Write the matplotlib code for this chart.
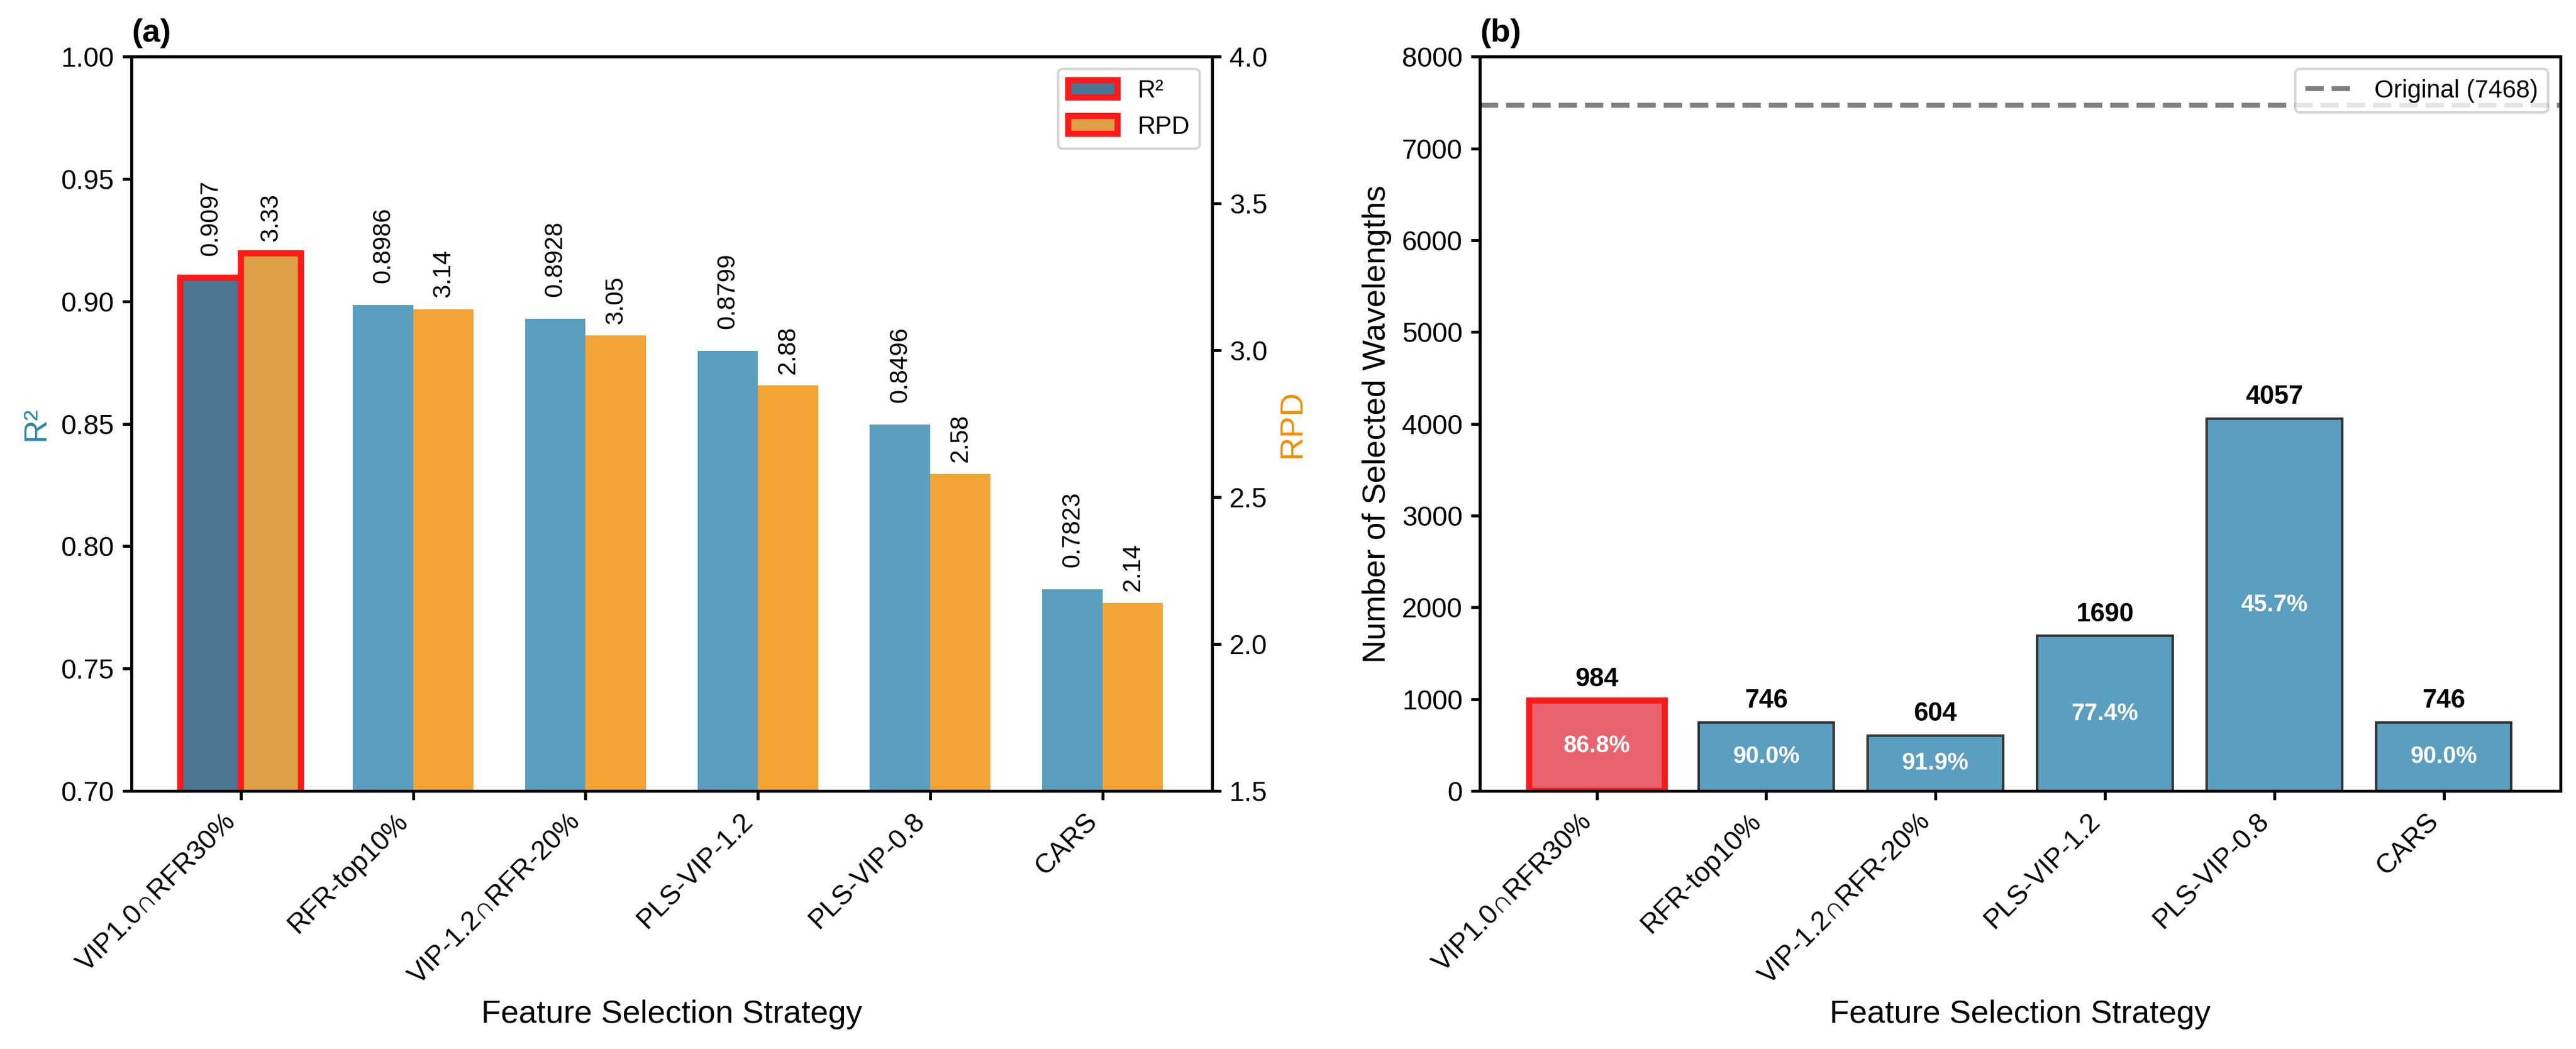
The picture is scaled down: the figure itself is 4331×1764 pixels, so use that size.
import numpy as np
import matplotlib
matplotlib.use('Agg')
from matplotlib import pyplot as plt

plt.rcParams['font.family'] = ['Liberation Sans', 'DejaVu Sans']
plt.rcParams['axes.linewidth'] = 1.2
plt.rcParams['xtick.major.width'] = 1.2
plt.rcParams['ytick.major.width'] = 1.2

strategies = ['VIP1.0\u2229RFR30%', 'RFR-top10%', 'VIP-1.2\u2229RFR-20%',
              'PLS-VIP-1.2', 'PLS-VIP-0.8', 'CARS']
r2 = [0.9097, 0.8986, 0.8928, 0.8799, 0.8496, 0.7823]
rpd = [3.33, 3.14, 3.05, 2.88, 2.58, 2.14]
n_selected = [984, 746, 604, 1690, 4057, 746]
n_original = 7468

BLUE = '#5A9EC0'
ORANGE = '#F2A535'
BEST_BLUE = '#4A7593'
BEST_ORANGE = '#DDA044'
BEST_RED = '#E9636F'
EDGE_RED = '#FF1A1A'
BAR_WIDTH = 0.35


def main():
    fig, (ax1, ax3) = plt.subplots(1, 2, figsize=(4331 / 300, 1764 / 300), dpi=300)
    plt.subplots_adjust(left=0.051, right=0.994, bottom=0.246, top=0.946, wspace=0.248)

    # (a) R2 and RPD
    x = np.arange(len(strategies))
    ax2 = ax1.twinx()
    b1 = ax1.bar(x - BAR_WIDTH / 2, r2, BAR_WIDTH, color=BLUE, label='R\u00b2')
    b2 = ax2.bar(x + BAR_WIDTH / 2, rpd, BAR_WIDTH, color=ORANGE, label='RPD')
    b1[0].set_facecolor(BEST_BLUE)
    b2[0].set_facecolor(BEST_ORANGE)
    for b in (b1[0], b2[0]):
        b.set_edgecolor(EDGE_RED)
        b.set_linewidth(2.5)

    for xi, v in zip(x, r2):
        ax1.text(xi - BAR_WIDTH / 2, v + 0.009, f'{v:.4f}', rotation=90,
                 ha='center', va='bottom', fontsize=10)
    for xi, v in zip(x, rpd):
        ax2.text(xi + BAR_WIDTH / 2, v + 0.04, f'{v:.2f}', rotation=90,
                 ha='center', va='bottom', fontsize=10)

    ax1.set_ylim(0.70, 1.00)
    ax2.set_ylim(1.5, 4.0)
    ax1.set_ylabel('R\u00b2', color='#2E86AB', fontsize=13)
    ax2.set_ylabel('RPD', color='#F18F01', fontsize=13)
    ax1.set_xlabel('Feature Selection Strategy', fontsize=13)
    ax1.set_xticks(x)
    ax1.set_xticklabels(strategies, rotation=45, ha='right')
    ax1.tick_params(labelsize=11)
    ax2.tick_params(labelsize=11)
    ax1.set_title('(a)', loc='left', fontweight='bold', fontsize=13)
    ax2.legend([b1, b2], ['R\u00b2', 'RPD'], loc='upper right', fontsize=10)

    # (b) number of wavelengths
    bars = ax3.bar(x, n_selected, 0.8, color=BLUE, edgecolor='#333333', linewidth=1)
    bars[0].set_facecolor(BEST_RED)
    bars[0].set_edgecolor(EDGE_RED)
    bars[0].set_linewidth(2.5)
    ax3.axhline(n_original, color='gray', linestyle='--', linewidth=2,
                label=f'Original ({n_original})')
    for xi, v in zip(x, n_selected):
        ax3.text(xi, v + 100, f'{v}', ha='center', va='bottom',
                 fontsize=10.5, fontweight='bold')
        reduction = (1 - v / n_original) * 100
        ax3.text(xi, v / 2, f'{reduction:.1f}%', ha='center', va='center',
                 fontsize=9.5, fontweight='bold', color='white')

    ax3.set_ylim(0, 8000)
    ax3.set_ylabel('Number of Selected Wavelengths', fontsize=13)
    ax3.set_xlabel('Feature Selection Strategy', fontsize=13)
    ax3.set_xticks(x)
    ax3.set_xticklabels(strategies, rotation=45, ha='right')
    ax3.tick_params(labelsize=11)
    ax3.set_title('(b)', loc='left', fontweight='bold', fontsize=13)
    ax3.legend(loc='upper right', fontsize=10)

    plt.savefig('out.png', dpi=300)


if __name__ == '__main__':
    main()
